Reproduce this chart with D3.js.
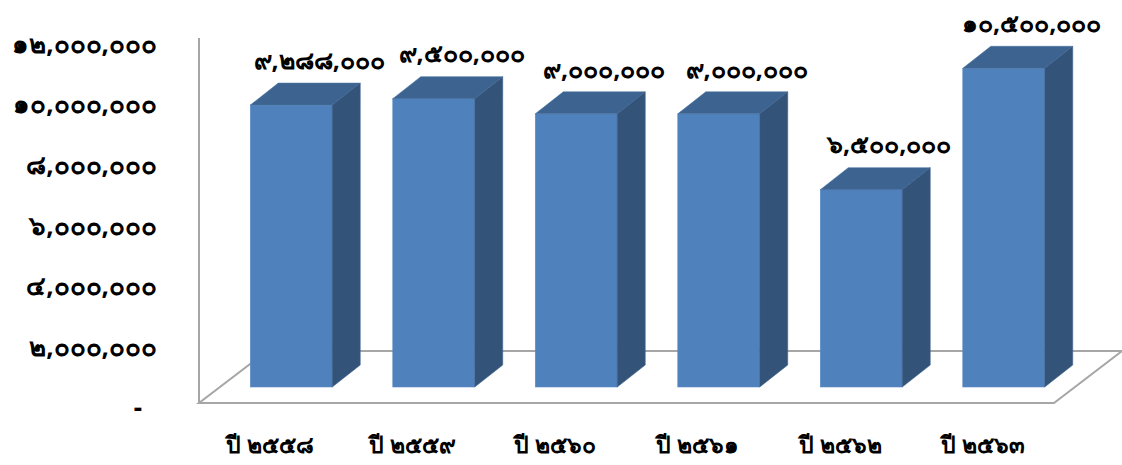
<!DOCTYPE html>
<html>
<head>
<meta charset="utf-8">
<script src="https://cdn.jsdelivr.net/npm/d3@7"></script>
<style>
  body { margin: 0; background: #fff; }
  text { font-family: "Noto Sans", sans-serif; font-weight: bold; fill: #000; }
</style>
</head>
<body>
<div id="chart"></div>
<script>
// data
var years = ["ปี ๒๕๕๘", "ปี ๒๕๕๙", "ปี ๒๕๖๐", "ปี ๒๕๖๑", "ปี ๒๕๖๒", "ปี ๒๕๖๓"];
var values = [9288000, 9500000, 9000000, 9000000, 6500000, 10500000];
var yTicks = [0, 2000000, 4000000, 6000000, 8000000, 10000000, 12000000];

var width = 1122, height = 465;
var floorFront = 403;              // front edge of the floor
var floorDx = 68, floorDy = -52;   // floor depth
var barDx = 28, barDy = -22;       // bar depth
var offDx = 21, offDy = -16;       // bar front relative to floor front
var baseY = floorFront + offDy;    // bar bottom

var thaiDigits = "๐๑๒๓๔๕๖๗๘๙";
function toThai(n) {
    return d3.format(",")(n).replace(/\d/g, function(d){ return thaiDigits[+d]; });
}

var svg = d3.select("#chart")
    .append("svg")
        .attr("width", width)
        .attr("height", height);

//scales
var x = d3.scaleBand()
    .domain(years)
    .range([199, 1054])
    .paddingInner(0.425)
    .paddingOuter(0.2125);

var y = d3.scaleLinear()
    .domain([0, 12000000])
    .range([baseY, baseY - 364.2]);

// axis labels sit at the front of the floor, so shift by the offset
var yAxisScale = d3.scaleLinear()
    .domain(y.domain())
    .range(y.range().map(function(v){ return v - offDy + 5; }));

//floor
var gridColor = "#a6a6a6";
var x0 = x.range()[0], x1 = x.range()[1];
svg.append("path")
    .attr("d", "M" + x0 + "," + floorFront +
               "L" + x1 + "," + floorFront +
               "L" + (x1 + floorDx) + "," + (floorFront + floorDy) +
               "L" + (x0 + floorDx) + "," + (floorFront + floorDy) + "Z")
    .attr("fill", "none")
    .attr("stroke", gridColor)
    .attr("stroke-width", 2);

//vertical axis line
svg.append("line")
    .attr("x1", x0).attr("x2", x0)
    .attr("y1", 38).attr("y2", floorFront)
    .attr("stroke", gridColor)
    .attr("stroke-width", 2);

//y axis labels
svg.append("g")
    .attr("transform", "translate(157,0)")
    .call(d3.axisLeft(yAxisScale)
        .tickValues(yTicks)
        .tickSize(0)
        .tickPadding(0)
        .tickFormat(function(d){ return d === 0 ? "-" : toThai(d); }))
    .call(function(g){ g.select(".domain").remove(); })
    .selectAll("text")
        .style("font-size", "26px")
        .attr("fill", "#000")
        .attr("dx", function(d){ return d === 0 ? -15 : 0; });

//bars
var bars = svg.selectAll(".bar")
    .data(values)
    .join("g")
        .attr("class", "bar");

function pts(arr) { return arr.map(function(p){ return p.join(","); }).join(" "); }

bars.each(function(d, i) {
    var g = d3.select(this);
    var left = x(years[i]) + offDx;
    var right = left + x.bandwidth();
    var top = y(d);
    // front
    g.append("rect")
        .attr("x", left)
        .attr("y", top)
        .attr("width", x.bandwidth())
        .attr("height", baseY - top)
        .attr("fill", "#4f81bd")
        .attr("stroke", "#5a8ac4")
        .attr("stroke-width", 0.6);
    // top
    g.append("polygon")
        .attr("points", pts([[left, top], [left + barDx, top + barDy],
                             [right + barDx, top + barDy], [right, top]]))
        .attr("fill", "#3d6390")
        .attr("stroke", "#4a73a3")
        .attr("stroke-width", 0.6);
    // side
    g.append("polygon")
        .attr("points", pts([[right, top], [right + barDx, top + barDy],
                             [right + barDx, baseY + barDy], [right, baseY]]))
        .attr("fill", "#335378")
        .attr("stroke", "#3f6390")
        .attr("stroke-width", 0.6);
    // value label
    g.append("text")
        .attr("x", left + x.bandwidth() / 2 + barDx)
        .attr("y", top - 45)
        .attr("dy", "0.35em")
        .attr("text-anchor", "middle")
        .style("font-size", "25px")
        .text(toThai(d));
});

//x labels
svg.selectAll(".xlabel")
    .data(years)
    .join("text")
        .attr("class", "xlabel")
        .attr("x", function(d){ return x(d) + x.bandwidth() / 2; })
        .attr("y", 445)
        .attr("dy", "0.35em")
        .attr("text-anchor", "middle")
        .style("font-size", "23px")
        .text(function(d){ return d; });
</script>
</body>
</html>
